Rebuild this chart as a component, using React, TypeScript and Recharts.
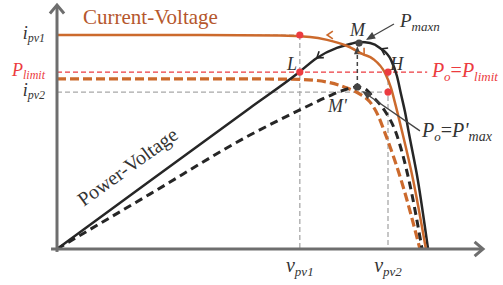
import React from 'react';
import { ComposedChart, Line, XAxis, YAxis, ReferenceLine, ReferenceDot } from 'recharts';

const SERIF = "'Liberation Serif', 'Times New Roman', Times, serif";
const ORANGE = '#cc6a2d';
const ORANGE_TEXT = '#b5572d';
const BLACK = '#262626';
const RED = '#ec3b40';
const GREY = '#a8a8a8';
const AXIS = '#6e6e6e';
const TEXT = '#333333';

// operating points (x: voltage in % of axis, y: current / power in % of axis)
const V_PV1 = 57.0;
const V_PV2 = 77.7;
const I_PV1 = 87.7;
const P_LIMIT = 72.5;
const I_PV2 = 64.3;
const M_PT = { x: 70.9, y: 84.4 };
const M2_PT = { x: 70.5, y: 66.4 };

// Current-Voltage curve, full irradiance (solid orange)
const ivSolidV = [0, 33.6, 52.3, 59.4, 63.4, 68.1, 71.8, 74.2, 77.0, 78.4, 79.3, 80.8, 83.6, 86.6];
const ivSolidI = [87.7, 87.7, 87.5, 86.9, 85.7, 83.2, 79.9, 77.9, 72.1, 66.0, 60.2, 49.6, 28.3, 0];
// Current-Voltage curve, reduced (dashed orange)
const ivDashV = [0, 45.3, 57.0, 63.4, 68.1, 71.1, 73.5, 75.1, 77.0, 81.0, 85.2];
const ivDashI = [69.7, 69.7, 69.5, 68.4, 66.0, 63.5, 60.2, 55.7, 47.5, 27.0, 0];
// Power-Voltage curve, full (solid black)
const pvSolidV = [0, 21.8, 45.3, 56.6, 61.0, 65.7, 68.8, 71.1, 73.5, 75.8, 78.4, 79.8, 80.8, 81.7, 82.6, 84.7, 87.1];
const pvSolidP = [0, 27.9, 57.8, 72.1, 78.3, 82.4, 84.0, 84.8, 84.4, 82.4, 77.5, 70.9, 63.1, 56.1, 47.5, 28.3, 0];
// Power-Voltage curve, reduced (dashed black)
const pvDashV = [0, 21.8, 45.3, 57.0, 63.4, 68.1, 70.4, 72.3, 74.2, 76.8, 79.6, 82.6, 85.7];
const pvDashP = [0, 22.5, 46.7, 57.0, 62.3, 65.6, 66.4, 65.6, 62.3, 57.0, 47.5, 28.3, 0];

const yTicks = [I_PV1, P_LIMIT, I_PV2];
const yTickMain = ['i', 'P', 'i'];
const yTickSub = ['pv1', 'limit', 'pv2'];
const yTickColor = [TEXT, RED, TEXT];
const xTicks = [V_PV1, V_PV2];
const xTickMain = ['v', 'v'];
const xTickSub = ['pv1', 'pv2'];

const toPts = (xs: number[], ys: number[]) => xs.map((x, i) => ({ x, y: ys[i] }));
const ivSolid = toPts(ivSolidV, ivSolidI);
const ivDash = toPts(ivDashV, ivDashI);
const pvSolid = toPts(pvSolidV, pvSolidP);
const pvDash = toPts(pvDashV, pvDashP);

function ArrowShape(props: any) {
  const { x1, y1, x2, y2, color, width, dash, head, size, spread } = props;
  const a = Math.atan2(y2 - y1, x2 - x1);
  const s = spread ?? 0.38;
  const L = size ?? 9;
  const hx1 = x2 - L * Math.cos(a - s);
  const hy1 = y2 - L * Math.sin(a - s);
  const hx2 = x2 - L * Math.cos(a + s);
  const hy2 = y2 - L * Math.sin(a + s);
  const endX = head === 'filled' ? x2 - L * 0.8 * Math.cos(a) : x2;
  const endY = head === 'filled' ? y2 - L * 0.8 * Math.sin(a) : y2;
  return (
    <g>
      <line x1={x1} y1={y1} x2={endX} y2={endY} stroke={color} strokeWidth={width} strokeDasharray={dash} />
      {head === 'filled' ? (
        <path d={`M${x2},${y2}L${hx1},${hy1}L${hx2},${hy2}Z`} fill={color} stroke="none" />
      ) : (
        <path d={`M${hx1},${hy1}L${x2},${y2}L${hx2},${hy2}`} fill="none" stroke={color} strokeWidth={width} strokeLinejoin="miter" />
      )}
    </g>
  );
}

function Chevron(props: any) {
  const { cx, cy, angle, color } = props;
  const a = (angle * Math.PI) / 180;
  const L = 7;
  const s = 0.6;
  const bx1 = cx - L * Math.cos(a - s);
  const by1 = cy - L * Math.sin(a - s);
  const bx2 = cx - L * Math.cos(a + s);
  const by2 = cy - L * Math.sin(a + s);
  return <path d={`M${bx1},${by1}L${cx},${cy}L${bx2},${by2}`} fill="none" stroke={color} strokeWidth={1.6} />;
}

const fontStyle = (size: number, italic: boolean) => ({
  fontFamily: SERIF,
  fontSize: size,
  fontStyle: italic ? 'italic' : 'normal',
});

function YTick(props: any) {
  const { x, y, index } = props;
  return (
    <text x={x} y={y + 4} textAnchor="end" style={fontStyle(18, true)} fill={yTickColor[index]}>
      {yTickMain[index]}
      <tspan style={{ fontSize: 12 }} dy={3}>{yTickSub[index]}</tspan>
    </text>
  );
}

function XTick(props: any) {
  const { x, y, index } = props;
  return (
    <text x={x} y={y + 23} textAnchor="middle" style={fontStyle(20, true)} fill={TEXT}>
      {xTickMain[index]}
      <tspan style={{ fontSize: 13 }} dy={4}>{xTickSub[index]}</tspan>
    </text>
  );
}

const txt = (content: React.ReactNode, opts: any = {}) => (p: any) => (
  <text
    x={p.cx}
    y={p.cy}
    style={fontStyle(opts.size ?? 18, opts.italic !== false)}
    fill={opts.color ?? TEXT}
    transform={opts.rotate ? `rotate(${opts.rotate} ${p.cx} ${p.cy})` : undefined}
  >
    {content}
  </text>
);

const dotShape = (color: string) => (p: any) => <circle cx={p.cx} cy={p.cy} r={3.6} fill={color} />;
const chev = (angle: number, color: string) => (p: any) => <Chevron cx={p.cx} cy={p.cy} angle={angle} color={color} />;
const arrow = (opts: any) => (p: any) => <ArrowShape {...p} {...opts} />;

export default function App() {
  return (
    <div style={{ position: 'absolute', left: 0, top: 0, width: 503, height: 285, background: '#fff' }}>
      <ComposedChart width={503} height={285} margin={{ top: 5, right: 20, bottom: 0, left: 0 }}>
        <XAxis
          type="number"
          dataKey="x"
          domain={[0, 100]}
          ticks={xTicks}
          interval={0}
          allowDataOverflow
          axisLine={false}
          tickLine={false}
          tickSize={0}
          tickMargin={0}
          height={36}
          tick={<XTick />}
        />
        <YAxis
          type="number"
          dataKey="y"
          domain={[0, 100]}
          ticks={yTicks}
          interval={0}
          allowDataOverflow
          axisLine={false}
          tickLine={false}
          tickSize={0}
          tickMargin={12}
          width={57}
          tick={<YTick />}
        />

        {/* guide lines */}
        <ReferenceLine segment={[{ x: 0, y: I_PV1 }, { x: V_PV1, y: I_PV1 }]} stroke={GREY} strokeWidth={1.2} strokeDasharray="5 3" />
        <ReferenceLine segment={[{ x: V_PV1, y: I_PV1 }, { x: V_PV1, y: 0 }]} stroke={GREY} strokeWidth={1.3} strokeDasharray="5 3" />
        <ReferenceLine segment={[{ x: 0, y: I_PV2 }, { x: V_PV2, y: I_PV2 }]} stroke={GREY} strokeWidth={1.3} strokeDasharray="5 3" />
        <ReferenceLine segment={[{ x: V_PV2, y: P_LIMIT }, { x: V_PV2, y: 0 }]} stroke={GREY} strokeWidth={1.3} strokeDasharray="5 3" />
        <ReferenceLine segment={[{ x: 0, y: P_LIMIT }, { x: 86.9, y: P_LIMIT }]} stroke={RED} strokeWidth={1.3} strokeDasharray="5 3" />

        {/* curves */}
        <Line data={ivDash} dataKey="y" type="monotone" stroke={ORANGE} strokeWidth={3.2} strokeDasharray="9 4" dot={false} activeDot={false} isAnimationActive={false} />
        <Line data={pvDash} dataKey="y" type="monotone" stroke={BLACK} strokeWidth={3} strokeDasharray="8 5" dot={false} activeDot={false} isAnimationActive={false} />
        <Line data={pvSolid} dataKey="y" type="monotone" stroke={BLACK} strokeWidth={2.5} dot={false} activeDot={false} isAnimationActive={false} />
        <Line data={ivSolid} dataKey="y" type="monotone" stroke={ORANGE} strokeWidth={2.5} dot={false} activeDot={false} isAnimationActive={false} />

        {/* axes with arrows */}
        <ReferenceLine ifOverflow="visible" segment={[{ x: -1.4, y: 0 }, { x: 100, y: 0 }]} shape={arrow({ color: AXIS, width: 3, head: 'open', size: 11, spread: 0.7 })} />
        <ReferenceLine ifOverflow="visible" segment={[{ x: 0, y: -1.2 }, { x: 0, y: 100 }]} shape={arrow({ color: AXIS, width: 3, head: 'open', size: 11, spread: 0.7 })} />

        {/* annotation arrows */}
        <ReferenceLine ifOverflow="visible" segment={[{ x: M2_PT.x, y: M2_PT.y }, { x: M2_PT.x, y: 83.2 }]} shape={arrow({ color: '#444', width: 1.5, dash: '4 3', head: 'filled', size: 9 })} />
        <ReferenceLine ifOverflow="visible" segment={[{ x: 79.1, y: 92.2 }, { x: 72.5, y: 85.7 }]} shape={arrow({ color: '#444', width: 1.3, head: 'filled', size: 10 })} />
        <ReferenceLine ifOverflow="visible" segment={[{ x: 85.2, y: 48.4 }, { x: 71.6, y: 64.8 }]} shape={arrow({ color: '#444', width: 1.3, head: 'filled', size: 10 })} />

        {/* direction chevrons */}
        <ReferenceDot x={63.4} y={I_PV1} r={0} shape={chev(180, ORANGE)} />
        <ReferenceDot x={72.1} y={79.6} r={0} shape={chev(55, ORANGE)} />
        <ReferenceDot x={61.0} y={78.3} r={0} shape={chev(143, BLACK)} />
        <ReferenceDot x={76.1} y={82.0} r={0} shape={chev(207, BLACK)} />

        {/* points */}
        <ReferenceDot x={V_PV1} y={I_PV1} r={3.6} shape={dotShape(RED)} />
        <ReferenceDot x={V_PV1} y={P_LIMIT} r={3.6} shape={dotShape(RED)} />
        <ReferenceDot x={V_PV2} y={P_LIMIT} r={3.6} shape={dotShape(RED)} />
        <ReferenceDot x={V_PV2} y={I_PV2} r={3.6} shape={dotShape(RED)} />
        <ReferenceDot x={M_PT.x} y={M_PT.y} r={3.6} shape={dotShape('#444')} />
        <ReferenceDot x={M2_PT.x} y={M2_PT.y} r={3.6} shape={dotShape('#444')} />

        {/* texts */}
        <ReferenceDot x={6.1} y={92.2} r={0} shape={txt('Current-Voltage', { size: 21, italic: false, color: ORANGE_TEXT })} />
        <ReferenceDot x={6.3} y={17.2} r={0} shape={txt('Power-Voltage', { size: 20, italic: false, rotate: -36 })} />
        <ReferenceDot x={68.8} y={87.3} r={0} shape={txt('M')} />
        <ReferenceDot x={80.5} y={91.0} r={0} shape={txt(<>P<tspan style={{ fontSize: 13 }} dy={4}>maxn</tspan></>, { size: 19 })} />
        <ReferenceDot x={54.0} y={73.4} r={0} shape={txt('L')} />
        <ReferenceDot x={78.2} y={73.4} r={0} shape={txt('H')} />
        <ReferenceDot x={63.6} y={56.1} r={0} shape={txt("M'")} />
        <ReferenceDot
          x={88.0}
          y={70.5}
          r={0}
          shape={txt(
            <>
              P<tspan style={{ fontSize: 13 }} dy={4}>o</tspan>
              <tspan dy={-4} style={{ fontStyle: 'normal' }}>=</tspan>P<tspan style={{ fontSize: 13 }} dy={4}>limit</tspan>
            </>,
            { size: 20, color: RED }
          )}
        />
        <ReferenceDot
          x={85.7}
          y={45.9}
          r={0}
          shape={txt(
            <>
              P<tspan style={{ fontSize: 13 }} dy={4}>o</tspan>
              <tspan dy={-4} style={{ fontStyle: 'normal' }}>=</tspan>P'<tspan style={{ fontSize: 14 }} dy={4}>max</tspan>
            </>,
            { size: 20 }
          )}
        />
      </ComposedChart>
    </div>
  );
}
